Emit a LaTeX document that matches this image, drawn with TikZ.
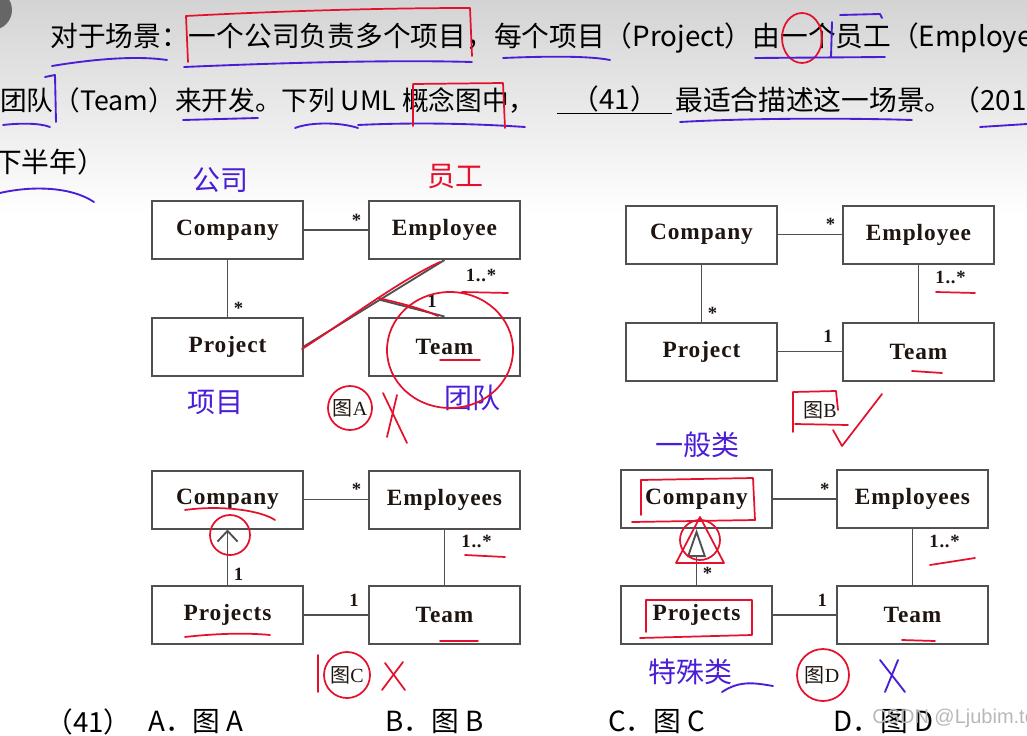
\documentclass[tikz,border=0pt]{standalone}
\usepackage{fontspec}
\usepackage{xcolor}
\setmainfont{Liberation Sans}
\newfontfamily\cjk{Noto Sans CJK SC}
\newfontfamily\umlfont[LetterSpace=4]{Liberation Serif}
\newfontfamily\capfont{Liberation Serif}
\usetikzlibrary{arrows.meta,positioning}

\definecolor{boxline}{HTML}{505050}
\definecolor{ink}{HTML}{1E1510}
\definecolor{pen}{HTML}{E5102C}
\definecolor{marker}{HTML}{4A1ED6}

\begin{document}
\begin{tikzpicture}[x=0.75pt,y=-0.75pt,
  cls/.style={rectangle,draw=boxline,line width=1.5pt,fill=white,minimum width=113pt,minimum height=43.5pt,inner sep=0pt,text=ink,font=\umlfont\bfseries\fontsize{17.5}{20}\selectfont},
  assoc/.style={draw=boxline,line width=1.4pt},
  mult/.style={inner sep=0pt,text=ink,font=\umlfont\bfseries\fontsize{14}{16}\selectfont},
  figcap/.style={inner sep=0pt,text=ink,font=\capfont\fontsize{15}{17}\selectfont},
  qtext/.style={anchor=west,inner sep=0pt,text=black,font=\cjk\fontsize{20.8}{24}\selectfont},
  redpen/.style={draw=pen,line width=1.3pt,line cap=round,line join=round},
  bluepen/.style={draw=marker,line width=1.4pt,line cap=round,line join=round},
  hand/.style={inner sep=0pt,font=\cjk\fontsize{21}{24}\selectfont}
]
\useasboundingbox (0,0) rectangle (1027,735);
\shade[top color=black!17,bottom color=white] (0,0) rectangle (1027,215);
\fill[black!60] (-8,10) circle (20);

% question text
\node[qtext] (line1) at (50,38) {对于场景：一个公司负责多个项目，每个项目（Project）由一个员工（Employee）};
\node[qtext,font=\cjk\fontsize{20}{24}\selectfont] (line2) at (0,100) {团队（Team）来开发。下列 UML 概念图中，};
\node[qtext] (blank) at (557,100) {\underline{\makebox[86pt]{（41）}}};
\node[qtext] (line2b) at (675,100) {最适合描述这一场景。（2015};
\node[qtext] (line3) at (-6,162) {下半年）};

% figure A
\node[cls] (compA) at (227.5,230) {Company};
\node[cls] (empA) at (444.5,230) {Employee};
\node[cls] (projA) at (227.5,346.5) {Project};
\node[cls] (teamA) at (444.5,346.5) {Team};
\draw[assoc] (compA) -- node[mult,pos=0.82,above=2pt]{*} (empA);
\draw[assoc] (compA) -- node[mult,pos=0.85,right=4pt]{*} (projA);
\draw[assoc] (empA.south) -- coordinate[pos=0.46] (joinA) (projA.east);
\draw[assoc] (joinA) -- (teamA.north);
\node[mult] (mA1) at (481,275) {1..*};
\node[mult] (mA2) at (432,301) {1};
\node[figcap] (capA) at (350,408) {{\cjk 图}A};

% figure B
\node[cls] (compB) at (701.5,234.5) {Company};
\node[cls] (empB) at (918.5,234.5) {Employee};
\node[cls] (projB) at (701.5,351.5) {Project};
\node[cls] (teamB) at (918.5,351.5) {Team};
\draw[assoc] (compB) -- node[mult,pos=0.82,above=2pt]{*} (empB);
\draw[assoc] (compB) -- node[mult,pos=0.85,right=4pt]{*} (projB);
\draw[assoc] (empB) -- node[mult,pos=0.22,right=12pt]{1..*} (teamB);
\draw[assoc] (projB) -- node[mult,pos=0.78,above=6pt]{1} (teamB);
\node[figcap] (capB) at (820,410) {{\cjk 图}B};

% figure C
\node[cls] (compC) at (227.5,499.5) {Company};
\node[cls] (empC) at (444.5,499.5) {Employees};
\node[cls] (projC) at (227.5,615) {Projects};
\node[cls] (teamC) at (444.5,615) {Team};
\draw[assoc] (compC) -- node[mult,pos=0.82,above=2pt]{*} (empC);
\draw[assoc,-{Straight Barb[length=8pt,width=15pt]}] (projC) -- node[mult,pos=0.2,right=4pt]{1} (compC);
\draw[assoc] (empC) -- node[mult,pos=0.22,right=12pt]{1..*} (teamC);
\draw[assoc] (projC) -- node[mult,pos=0.78,above=6pt]{1} (teamC);
\node[figcap] (capC) at (347,675) {{\cjk 图}C};

% figure D
\node[cls] (compD) at (696.5,499) {Company};
\node[cls] (empD) at (912.5,499) {Employees};
\node[cls] (projD) at (696.5,615) {Projects};
\node[cls] (teamD) at (912.5,615) {Team};
\draw[assoc] (compD) -- node[mult,pos=0.82,above=2pt]{*} (empD);
\draw[assoc,-{Triangle[open,length=21pt,width=14pt]}] (projD) -- node[mult,pos=0.2,right=4pt]{*} (compD);
\draw[assoc] (empD) -- node[mult,pos=0.22,right=12pt]{1..*} (teamD);
\draw[assoc] (projD) -- node[mult,pos=0.78,above=6pt]{1} (teamD);
\node[figcap] (capD) at (822,675) {{\cjk 图}D};

% answer choices
\node[qtext] (ans) at (45,722) {（41）};
\node[qtext] (optA) at (148,722) {A．图 A};
\node[qtext] (optB) at (385,722) {B．图 B};
\node[qtext] (optC) at (608,722) {C．图 C};
\node[qtext] (optD) at (833,722) {D．图 D};
\node[anchor=west,inner sep=0pt,text=black!28,font=\fontsize{15}{17}\selectfont] (mark) at (872,718) {CSDN @Ljubim.te};

% pen marks on the question
\draw[redpen] (186,16) .. controls (300,10) and (400,8) .. (470,8) -- (472,56);
\draw[redpen] (186,16) -- (188,62);
\draw[bluepen] (52,66) .. controls (100,58) and (140,56) .. (167,60);
\draw[bluepen] (184,67) .. controls (300,62) and (400,60) .. (472,62);
\draw[bluepen] (503,58) .. controls (550,56) and (590,56) .. (610,60);
\draw[redpen] (802,38) ellipse [x radius=20,y radius=25];
\draw[bluepen] (755,58) -- (885,57);
\draw[bluepen] (832,22) -- (831,57);
\draw[bluepen] (840,15) -- (880,14) -- (882,18);
\draw[bluepen] (45,77) -- (55,75) -- (56,122);
\draw[bluepen] (3,125) .. controls (20,123) and (40,123) .. (50,127);
\draw[bluepen] (183,120) -- (258,118);
\draw[bluepen] (295,128) .. controls (310,122) and (340,122) .. (358,128);
\draw[bluepen] (358,125) .. controls (420,122) and (480,124) .. (525,127);
\draw[redpen] (413,85) -- (413,126);
\draw[redpen] (413,84) -- (503,83) -- (505,128);
\draw[bluepen] (680,122) .. controls (750,118) and (850,118) .. (912,120);
\draw[bluepen] (980,127) -- (1027,124);
\draw[bluepen] (0,193) .. controls (30,186) and (70,186) .. (94,202);

% pen marks on figure A
\node[hand,text=marker] (wordA1) at (220,180) {公司};
\node[hand,text=pen] (wordA2) at (455,177) {员工};
\node[hand,text=marker] (wordA3) at (215,402) {项目};
\node[hand,text=marker] (wordA4) at (472,398) {团队};
\draw[redpen] (302,349) .. controls (340,325) and (400,280) .. (440,262);
\draw[redpen] (378,298) .. controls (400,303) and (420,308) .. (438,316);
\draw[redpen] (450,350) ellipse [x radius=63,y radius=58];
\draw[redpen] (462,292) -- (508,293);
\draw[redpen] (440,360) -- (480,360);
\draw[redpen] (350,408) circle (22);
\draw[redpen] (383,393) -- (407,443);
\draw[redpen] (397,395) -- (387,437);

% pen marks on figure B
\draw[redpen] (936,292) -- (975,293);
\draw[redpen] (912,371) -- (942,373);
\draw[redpen] (793,432) -- (793,392) -- (836,391) -- (838,410);
\draw[redpen] (795,424) -- (848,425);
\draw[redpen] (833,430) -- (842,446) -- (882,394);

% pen marks on figure C
\draw[redpen] (185,510) .. controls (220,505) and (260,510) .. (275,520);
\draw[redpen] (230,535) circle (20);
\draw[redpen] (465,555) -- (505,557);
\draw[redpen] (185,637) .. controls (220,633) and (250,633) .. (270,635);
\draw[redpen] (440,641) -- (478,641);
\draw[redpen] (347,675) circle (23);
\draw[redpen] (318,655) -- (318,692);
\draw[redpen] (385,663) -- (405,690);
\draw[redpen] (403,662) -- (382,690);

% pen marks on figure D
\node[hand,text=marker] (wordD1) at (697,445) {一般类};
\node[hand,text=marker] (wordD2) at (690,672) {特殊类};
\draw[redpen] (641,480) -- (753,478) -- (755,520) -- (632,522);
\draw[redpen] (641,480) -- (641,515);
\draw[redpen] (700,540) circle (20);
\draw[redpen] (676,563) -- (700,517) -- (724,563) -- cycle;
\draw[redpen] (930,565) -- (975,558);
\draw[redpen] (646,600) -- (752,600) -- (752,635) -- (640,638);
\draw[redpen] (646,600) -- (646,632);
\draw[redpen] (902,640) -- (935,641);
\draw[redpen] (823,675) circle (26);
\draw[bluepen] (880,660) -- (905,692);
\draw[bluepen] (898,660) -- (885,692);
\draw[bluepen] (722,692) .. controls (740,680) and (755,683) .. (773,686);
\end{tikzpicture}
\end{document}
